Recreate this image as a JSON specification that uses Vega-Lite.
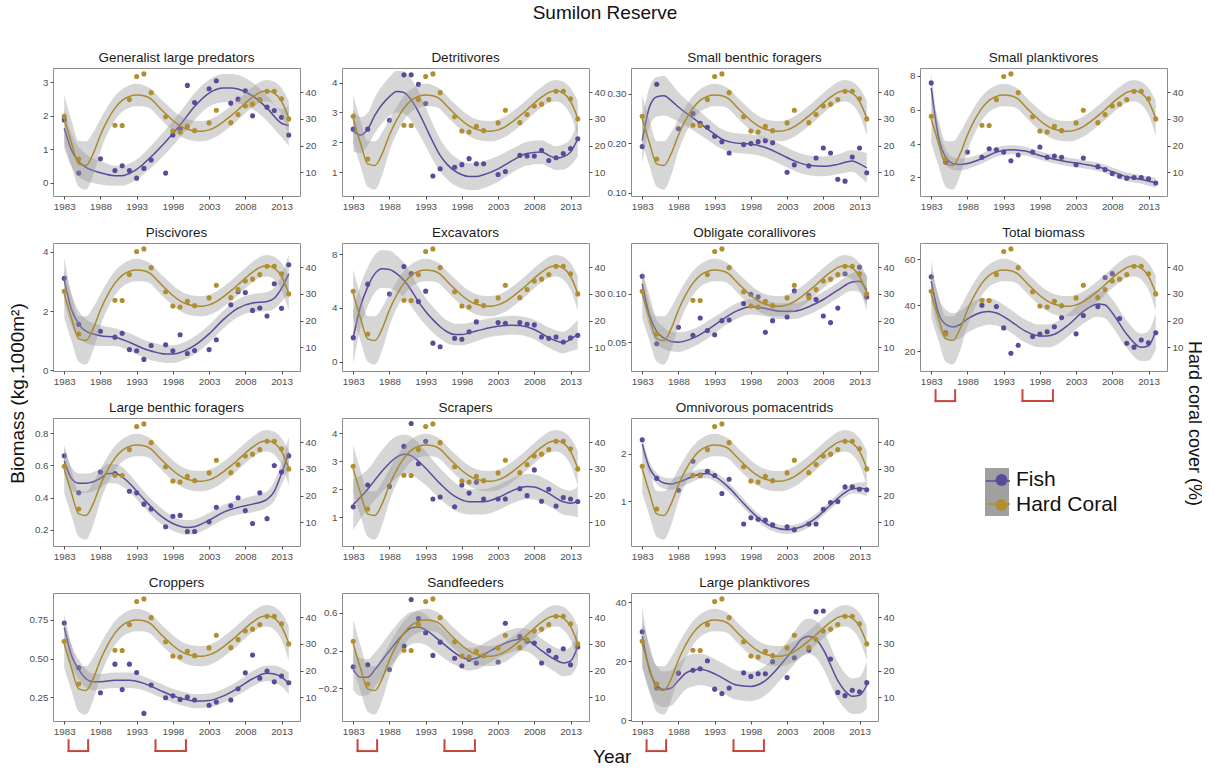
{
"$schema":"https://vega.github.io/schema/vega-lite/v6.json",
"padding":{"left":8,"top":4,"right":0,"bottom":0},
"background":"white",
"config":{"font":"Liberation Sans","view":{"stroke":"#8c8c8c","strokeWidth":1},
"axis":{"labelFontSize":9.8,"labelColor":"#4d4d4d","tickColor":"#4d4d4d","tickSize":3,"labelPadding":2,"domain":false,"grid":false,"labelFont":"Liberation Sans","labelOverlap":false,"labelFlush":false},
"title":{"fontSize":13.5,"fontWeight":"normal","color":"#1a1a1a","offset":4,"font":"Liberation Sans"}},
"datasets":{
"cfit":[{"y":[1983,1984,1985,1986,1987,1988,1989,1990,1991,1992,1993,1994,1995,1996,1997,1998,1999,2000,2001,2002,2003,2004,2005,2006,2007,2008,2009,2010,2011,2012,2013,2014],
"f":[30,21,13.2,12.6,17,24,29.6,34,36.9,38.4,38.9,38.6,37.4,34.6,31.9,29.4,27.4,26.1,25.5,25.4,25.9,27.1,29,31.1,33.4,35.9,38.1,39.9,40.5,39.6,36.5,30.2],
"l":[21,12.5,4.7,3.6,9,18,24.6,29.5,32.7,34.2,34.7,34.6,33.6,30.8,28.1,25.6,23.6,22.3,21.7,21.6,22.1,23.3,25.2,27.3,29.6,32.1,34.3,36,36.5,35.3,31.5,23.7],
"h":[39,29.5,21.7,21.6,25,30,34.6,38.5,41.1,42.6,43.1,42.6,41.2,38.4,35.7,33.2,31.2,29.9,29.3,29.2,29.7,30.9,32.8,34.9,37.2,39.7,41.9,43.8,44.5,43.9,41.5,36.7]}],
"coral":[{"y":[1983,1985,1990,1991,1992,1993,1994,1995,1997,1998,1999,2000,2001,2003,2004,2006,2007,2008,2009,2010,2011,2012,2013,2014],
"v":[31,15,27.6,27.5,37.2,45.8,46.8,39.8,30.8,25.5,25.1,27.2,25.6,28.5,33.2,28.6,31.6,34.8,35.5,37.2,40.3,40.3,37.5,30]}],
"br":[{"a":1983.6,"b":1986.3},{"a":1995.6,"b":1999.8}],
"fish":[
{"p":1,"y":[1983,1985,1988,1990,1991,1992,1993,1994,1995,1997,1998,1999,2000,2001,2003,2004,2006,2007,2008,2009,2010,2011,2012,2013,2014],"v":[1.88,0.29,0.72,0.37,0.51,0.37,0.14,0.43,0.68,0.29,1.43,1.6,2.91,2.4,2.81,3.05,2.38,2.5,2.75,2.0,2.48,2.26,2.16,1.96,1.43]},
{"p":2,"y":[1983,1985,1988,1990,1991,1992,1993,1994,1995,1997,1998,1999,2000,2001,2003,2004,2006,2007,2008,2009,2010,2011,2012,2013,2014],"v":[2.44,2.44,2.74,4.26,4.26,3.94,3.3,0.87,1.11,1.16,1.25,1.45,1.28,1.28,0.92,1.02,1.56,1.54,1.54,1.73,1.39,1.48,1.62,1.79,2.12]},
{"p":3,"y":[1983,1985,1988,1990,1991,1992,1993,1994,1995,1997,1998,1999,2000,2001,2003,2004,2006,2007,2008,2009,2010,2011,2012,2013,2014],"v":[0.193,0.319,0.229,0.26,0.24,0.232,0.214,0.203,0.18,0.197,0.199,0.203,0.205,0.201,0.141,0.156,0.154,0.17,0.19,0.18,0.127,0.123,0.172,0.19,0.14]},
{"p":4,"y":[1983,1985,1988,1990,1991,1992,1993,1994,1995,1997,1998,1999,2000,2001,2003,2004,2006,2007,2008,2009,2010,2011,2012,2013,2014],"v":[7.59,2.9,3.5,3.2,3.7,3.64,3.5,2.99,3.33,3.5,3.8,3.2,3.27,3.19,2.76,3.15,2.64,2.47,2.23,2.08,1.96,2.0,2.0,1.92,1.67]},
{"p":5,"y":[1983,1985,1988,1990,1991,1992,1993,1994,1995,1997,1998,1999,2000,2001,2003,2004,2006,2007,2008,2009,2010,2011,2012,2013,2014],"v":[3.1,1.55,1.32,1.12,1.25,0.7,0.66,0.37,0.84,0.86,0.66,1.2,0.57,0.67,0.7,1.03,2.21,2.65,2.62,2.02,2.1,1.83,2.92,2.09,3.56]},
{"p":6,"y":[1983,1985,1988,1990,1991,1992,1993,1994,1995,1997,1998,1999,2000,2003,2004,2006,2007,2008,2009,2010,2011,2012,2013,2014],"v":[1.78,5.76,5.02,7.07,6.54,4.46,5.24,1.37,1.1,1.73,1.66,2.22,2.95,2.9,2.85,2.9,2.78,2.73,1.83,1.73,1.83,1.46,1.76,1.95]},
{"p":7,"y":[1983,1985,1988,1990,1991,1992,1993,1994,1995,1997,1998,1999,2000,2001,2003,2004,2006,2007,2008,2009,2010,2011,2013,2014],"v":[0.1176,0.0486,0.0655,0.0574,0.075,0.0622,0.0578,0.0723,0.073,0.0899,0.0993,0.0966,0.0605,0.0723,0.076,0.1027,0.0983,0.0939,0.077,0.0703,0.0851,0.1203,0.127,0.0966]},
{"p":8,"y":[1983,1985,1990,1992,1993,1994,1995,1997,1998,1999,2000,2001,2003,2004,2006,2007,2008,2009,2010,2011,2012,2013,2014],"v":[52.4,28.0,40.0,39.4,30.1,19.0,22.5,26.3,27.4,28.4,30.6,34.6,27.5,35.5,39.4,52.1,53.8,34.2,23.4,21.7,24.8,23.6,28]},
{"p":9,"y":[1983,1985,1988,1990,1992,1993,1994,1995,1997,1998,1999,2000,2001,2003,2004,2006,2007,2008,2009,2010,2011,2012,2013,2014],"v":[0.66,0.43,0.56,0.55,0.44,0.43,0.36,0.33,0.22,0.285,0.29,0.19,0.19,0.25,0.34,0.35,0.40,0.32,0.24,0.43,0.27,0.60,0.56,0.66]},
{"p":10,"y":[1983,1985,1988,1990,1991,1992,1993,1994,1995,1997,1998,1999,2000,2001,2003,2004,2006,2007,2008,2009,2010,2011,2012,2013,2014],"v":[1.37,2.15,2.1,3.53,4.35,2.91,3.71,1.65,1.72,1.37,2.15,1.86,2.25,1.65,1.65,1.65,2.02,1.77,2.69,1.57,2.0,1.4,1.7,1.65,1.56]},
{"p":11,"y":[1983,1985,1988,1990,1991,1992,1993,1994,1995,1997,1998,1999,2000,2001,2003,2004,2006,2007,2008,2009,2010,2011,2012,2013,2014],"v":[2.29,1.48,1.23,1.84,1.55,1.63,1.54,1.16,1.46,0.52,0.65,0.62,0.6,0.5,0.46,0.4,0.52,0.52,0.83,0.97,0.99,1.3,1.3,1.25,1.24]},
{"p":12,"y":[1983,1985,1988,1990,1991,1992,1993,1994,1995,1997,1998,1999,2000,2001,2003,2004,2006,2007,2008,2009,2010,2011,2012,2013,2014],"v":[0.729,0.44,0.28,0.464,0.30,0.464,0.41,0.147,0.33,0.248,0.26,0.237,0.252,0.233,0.199,0.22,0.233,0.306,0.408,0.523,0.374,0.42,0.35,0.387,0.344]},
{"p":13,"y":[1983,1985,1988,1990,1991,1992,1993,1994,1995,1997,1998,1999,2000,2003,2004,2006,2007,2008,2009,2010,2011,2012,2013,2014],"v":[0.03,0.05,0.0,0.25,0.74,0.54,0.39,0.15,0.29,0.12,0.04,0.11,0.07,0.08,0.49,0.35,0.3,0.28,0.07,0.2,0.13,0.22,0.05,0.24]},
{"p":14,"y":[1983,1985,1988,1990,1991,1992,1993,1994,1995,1997,1998,1999,2000,2001,2003,2004,2006,2007,2008,2009,2010,2011,2012,2013,2014],"v":[30,11,16,17,17.5,20.2,10.6,9.1,11,16.1,14.9,15.8,15.8,19.9,14.5,21.2,23.8,36.8,37,20.8,9.5,8.4,10.2,9.7,12.8]}
],
"fit":[
{"p":1,"y":[1983,1984,1985,1986,1988,1990,1991,1992,1993,1995,1997,1999,2001,2003,2005,2006,2007,2009,2011,2013,2014],"f":[1.63,0.98,0.63,0.46,0.30,0.21,0.21,0.28,0.40,0.78,1.23,1.73,2.28,2.68,2.83,2.83,2.80,2.60,2.23,1.78,1.71],"l":[1.03,0.48,0.18,0.06,-0.05,-0.09,-0.09,-0.02,0.10,0.45,0.87,1.35,1.88,2.28,2.41,2.41,2.38,2.2,1.85,1.36,1.11],"h":[2.23,1.48,1.08,0.86,0.65,0.51,0.51,0.58,0.70,1.11,1.59,2.11,2.68,3.08,3.25,3.25,3.22,3.0,2.61,2.2,2.31]},
{"p":2,"y":[1983,1984,1985,1986,1988,1989,1990,1991,1992,1993,1994,1995,1996,1997,1998,1999,2000,2001,2003,2005,2007,2009,2010,2011,2012,2013,2014],"f":[2.38,2.24,2.44,2.91,3.53,3.70,3.67,3.42,3.02,2.52,2.01,1.56,1.25,1.04,0.91,0.85,0.85,0.91,1.11,1.39,1.62,1.67,1.56,1.47,1.51,1.67,2.12],"l":[1.68,1.64,1.89,2.31,2.88,3.0,2.97,2.72,2.32,1.87,1.41,1.01,0.75,0.56,0.46,0.40,0.40,0.46,0.68,0.99,1.22,1.27,1.16,1.07,1.09,1.22,1.52],"h":[3.08,2.84,2.99,3.51,4.18,4.4,4.37,4.12,3.72,3.17,2.61,2.11,1.75,1.52,1.36,1.30,1.30,1.36,1.54,1.79,2.02,2.07,1.96,1.87,1.93,2.12,2.72]},
{"p":3,"y":[1983,1984,1985,1986,1987,1988,1990,1992,1994,1996,1998,2000,2002,2004,2006,2008,2010,2012,2013,2014],"f":[0.205,0.273,0.294,0.296,0.286,0.273,0.251,0.229,0.208,0.200,0.198,0.191,0.178,0.164,0.155,0.153,0.157,0.164,0.158,0.150],"l":[0.16,0.233,0.254,0.256,0.251,0.243,0.226,0.207,0.188,0.18,0.178,0.171,0.158,0.144,0.135,0.133,0.137,0.142,0.133,0.12],"h":[0.25,0.313,0.334,0.336,0.321,0.303,0.276,0.251,0.228,0.22,0.218,0.211,0.198,0.184,0.175,0.173,0.177,0.186,0.183,0.18]},
{"p":4,"y":[1983,1984,1985,1986,1987,1988,1990,1992,1994,1996,1998,2000,2002,2004,2006,2008,2010,2012,2014],"f":[7.3,4.4,3.2,2.83,2.77,2.83,3.12,3.5,3.64,3.56,3.3,3.08,2.92,2.79,2.63,2.34,2.04,1.88,1.69],"l":[6.4,3.8,2.75,2.45,2.42,2.5,2.82,3.22,3.37,3.3,3.05,2.83,2.67,2.54,2.38,2.09,1.79,1.63,1.39],"h":[8.2,5.0,3.65,3.21,3.12,3.16,3.42,3.78,3.91,3.82,3.55,3.33,3.17,3.04,2.88,2.59,2.29,2.13,1.99]},
{"p":5,"y":[1983,1984,1985,1986,1988,1990,1992,1994,1996,1997,1998,1999,2001,2003,2005,2007,2009,2011,2012,2013,2014],"f":[3.05,2.05,1.56,1.32,1.17,1.12,0.95,0.73,0.59,0.55,0.55,0.60,0.84,1.23,1.72,2.10,2.27,2.32,2.43,2.76,3.25],"l":[2.3,1.5,1.11,0.92,0.82,0.82,0.65,0.43,0.29,0.25,0.25,0.30,0.54,0.93,1.42,1.80,1.97,2.0,2.08,2.31,2.6],"h":[3.8,2.6,2.01,1.72,1.52,1.42,1.25,1.03,0.89,0.85,0.85,0.90,1.14,1.53,2.02,2.40,2.57,2.64,2.78,3.21,3.9]},
{"p":6,"y":[1983,1984,1985,1986,1987,1988,1989,1990,1991,1992,1993,1994,1995,1996,1997,1998,2000,2002,2004,2005,2006,2008,2010,2011,2012,2013,2014],"f":[1.8,4.1,5.56,6.54,6.9,6.85,6.54,6.05,5.32,4.46,3.73,3.12,2.59,2.2,2.02,2.02,2.27,2.54,2.68,2.71,2.68,2.39,1.78,1.54,1.41,1.66,2.02],"l":[-0.2,2.5,4.11,5.14,5.5,5.45,5.19,4.75,4.12,3.36,2.73,2.17,1.69,1.35,1.22,1.22,1.52,1.84,1.98,2.01,1.98,1.67,1.03,0.77,0.61,0.76,0.92],"h":[3.8,5.7,7.01,7.94,8.3,8.25,7.89,7.35,6.52,5.56,4.73,4.07,3.49,3.05,2.82,2.82,3.02,3.24,3.38,3.41,3.38,3.11,2.53,2.31,2.21,2.56,3.12]},
{"p":7,"y":[1983,1984,1985,1986,1987,1988,1990,1992,1994,1996,1998,2000,2002,2004,2006,2008,2010,2012,2013,2014],"f":[0.110,0.078,0.0611,0.0544,0.051,0.0503,0.0544,0.0628,0.073,0.082,0.0865,0.0848,0.082,0.082,0.0865,0.0939,0.1034,0.1118,0.1125,0.1034],"l":[0.097,0.066,0.049,0.0434,0.041,0.0403,0.0454,0.0538,0.065,0.074,0.0785,0.0768,0.074,0.074,0.0785,0.0859,0.0954,0.1028,0.1015,0.0884],"h":[0.123,0.090,0.073,0.0654,0.061,0.0603,0.0634,0.0718,0.081,0.090,0.0945,0.0928,0.090,0.090,0.0945,0.1019,0.1114,0.1208,0.1235,0.1184]},
{"p":8,"y":[1983,1984,1985,1986,1987,1988,1990,1991,1992,1994,1996,1998,1999,2000,2002,2004,2006,2007,2008,2010,2012,2013,2014],"f":[50.5,36.6,31.6,30.5,31.6,34,36.9,37.3,36.6,33,28.7,26.6,26.6,27.3,31.6,37.3,40.6,40.1,36.6,27.3,21.6,22.3,28.7],"l":[41.5,29.6,25.1,24.5,25.6,28,30.9,31.5,31.1,28,23.7,21.6,21.6,22.3,26.6,32,35,34.3,30.6,21.3,15.6,15.8,20.7],"h":[59.5,43.6,38.1,36.5,37.6,40,42.9,43.1,42.1,38,33.7,31.6,31.6,32.3,36.6,42.6,46.2,45.9,42.6,33.3,27.6,28.8,36.7]},
{"p":9,"y":[1983,1984,1985,1986,1988,1989,1990,1991,1992,1994,1996,1998,2000,2001,2003,2005,2007,2009,2011,2012,2013,2014],"f":[0.63,0.52,0.49,0.49,0.52,0.55,0.55,0.53,0.49,0.39,0.30,0.24,0.215,0.22,0.26,0.31,0.34,0.36,0.39,0.44,0.55,0.68],"l":[0.55,0.45,0.43,0.43,0.46,0.49,0.49,0.47,0.435,0.34,0.25,0.195,0.17,0.175,0.215,0.265,0.295,0.31,0.34,0.38,0.48,0.58],"h":[0.71,0.59,0.55,0.55,0.58,0.61,0.61,0.59,0.545,0.44,0.35,0.285,0.26,0.265,0.305,0.355,0.385,0.41,0.44,0.50,0.62,0.78]},
{"p":10,"y":[1983,1985,1987,1989,1990,1991,1992,1993,1995,1997,1999,2001,2003,2005,2007,2008,2010,2012,2013,2014],"f":[1.45,2.0,2.65,3.15,3.25,3.2,3.0,2.75,2.2,1.75,1.55,1.55,1.7,1.95,2.1,2.08,1.85,1.55,1.5,1.55],"l":[0.55,1.3,1.9,2.4,2.55,2.52,2.35,2.15,1.65,1.25,1.1,1.1,1.25,1.5,1.65,1.63,1.4,1.1,1.05,1.0],"h":[2.35,2.7,3.4,3.9,3.95,3.88,3.65,3.35,2.75,2.25,2.0,2.0,2.15,2.4,2.55,2.53,2.3,2.0,1.95,2.1]},
{"p":11,"y":[1983,1984,1985,1986,1987,1988,1990,1991,1992,1993,1995,1997,1999,2001,2003,2005,2007,2009,2011,2012,2013,2014],"f":[2.2,1.7,1.48,1.38,1.36,1.4,1.52,1.57,1.58,1.52,1.28,0.95,0.65,0.46,0.40,0.46,0.65,0.92,1.18,1.26,1.27,1.25],"l":[2.05,1.57,1.36,1.26,1.24,1.28,1.41,1.47,1.48,1.42,1.18,0.85,0.56,0.37,0.31,0.37,0.56,0.83,1.08,1.16,1.15,1.1],"h":[2.35,1.83,1.6,1.5,1.48,1.52,1.63,1.67,1.68,1.62,1.38,1.05,0.74,0.55,0.49,0.55,0.74,1.01,1.28,1.36,1.39,1.4]},
{"p":12,"y":[1983,1984,1985,1986,1987,1988,1990,1992,1994,1996,1998,2000,2001,2003,2005,2007,2009,2011,2012,2013,2014],"f":[0.70,0.52,0.43,0.37,0.35,0.35,0.36,0.36,0.34,0.30,0.26,0.235,0.225,0.23,0.26,0.31,0.37,0.405,0.40,0.38,0.34],"l":[0.61,0.45,0.365,0.31,0.295,0.30,0.31,0.31,0.295,0.255,0.215,0.19,0.18,0.185,0.215,0.265,0.32,0.355,0.345,0.32,0.27],"h":[0.79,0.59,0.495,0.43,0.405,0.40,0.41,0.41,0.385,0.345,0.305,0.28,0.27,0.275,0.305,0.355,0.42,0.455,0.455,0.44,0.41]},
{"p":13,"y":[1983,1984,1985,1986,1988,1990,1991,1992,1993,1995,1997,1998,1999,2000,2002,2004,2006,2007,2009,2011,2012,2013,2014],"f":[0.0,-0.08,-0.08,0.0,0.20,0.38,0.44,0.45,0.42,0.30,0.18,0.13,0.11,0.12,0.20,0.28,0.32,0.31,0.20,0.10,0.07,0.09,0.25],"l":[-0.22,-0.28,-0.27,-0.18,0.02,0.20,0.27,0.28,0.26,0.15,0.05,0.01,-0.01,0.0,0.08,0.16,0.20,0.19,0.07,-0.03,-0.07,-0.06,0.05],"h":[0.22,0.12,0.11,0.18,0.38,0.56,0.61,0.62,0.58,0.45,0.31,0.25,0.23,0.24,0.32,0.40,0.44,0.43,0.33,0.23,0.21,0.24,0.45]},
{"p":14,"y":[1983,1984,1985,1986,1987,1988,1989,1990,1991,1992,1994,1996,1998,2000,2002,2004,2005,2006,2007,2008,2010,2011,2012,2013,2014],"f":[28.5,17,12,10.5,11,13.5,16,17,17.3,16.8,14.5,12,11.5,13.5,18.5,24.5,27.5,28.5,27.5,24,13.5,10,8.2,8.5,12],"l":[18.5,9.5,5.5,4.5,5,7.7,10.5,11.5,12,11.6,9.5,7,6.5,8.5,13.5,19,21.7,22.5,21.3,17.5,7.3,4,2.2,2.3,4],"h":[38.5,24.5,18.5,16.5,17,19.3,21.5,22.5,22.6,22,19.5,17,16.5,18.5,23.5,30,33.3,34.5,33.7,30.5,19.7,16,14.2,14.7,20]}
]},
"title":{"text":"Sumilon Reserve","fontSize":19,"offset":27,"anchor":"middle","color":"#111111"},
"vconcat":[
{"spacing":-5,"hconcat":[
{"width":1,"height":600,"view":{"stroke":null},"data":{"values":[{}]},"mark":{"type":"point","opacity":0},"encoding":{"y":{"datum":0,"type":"quantitative","axis":{"title":"Biomass (kg.1000m²)","labels":false,"ticks":false,"domain":false,"grid":false,"titleFontSize":19,"titleFontWeight":"normal","titleColor":"#111111","titlePadding":2,"titleY":325}}}},
{"spacing":0,"hconcat":[
{"columns":4,"align":"all","bounds":"full","spacing":{"row":-3,"column":0},
"concat":[
{"title":"Generalist large predators","width":247,"height":128,"resolve":{"scale":{"y":"independent"}},"layer":[
{"layer":[{"data":{"name":"fit"},"transform":[{"filter":"datum.p==1"},{"flatten":["y","f","l","h"]}],"layer":[{"mark":{"type":"area","color":"#999999","opacity":0.4,"interpolate":"monotone"},"encoding":{"x":{"field":"y","type":"quantitative","scale":{"domain":[1981.45,2015.55],"nice":false,"zero":false},"axis":{"values":[1983,1988,1993,1998,2003,2008,2013],"format":"d","title":null}},"y":{"field":"l","type":"quantitative","scale":{"domain":[-0.394,3.43],"nice":false,"zero":false},"axis":{"values":[0,1,2,3],"format":"d","title":null}},"y2":{"field":"h"}}},{"mark":{"type":"line","color":"#5b4a9b","strokeWidth":1.5,"interpolate":"monotone"},"encoding":{"x":{"field":"y","type":"quantitative"},"y":{"field":"f","type":"quantitative"}}}]},{"data":{"name":"fish"},"transform":[{"filter":"datum.p==1"},{"flatten":["y","v"]}],"mark":{"type":"circle","size":26,"opacity":1},"encoding":{"x":{"field":"y","type":"quantitative"},"y":{"field":"v","type":"quantitative"},"color":{"datum":"Fish","type":"nominal","scale":{"domain":["Fish","Hard Coral"],"range":["#5b4a9b","#b18e2f"]},"legend":{"title":null,"orient":"none","legendX":956,"legendY":401.5,"labelFontSize":21,"labelColor":"#111111","labelOffset":4,"symbolType":"circle","symbolSize":140,"symbolStrokeWidth":0,"symbolOffset":6,"rowPadding":3,"zindex":2}}}}]},
{"layer":[{"data":{"name":"cfit"},"transform":[{"flatten":["y","f","l","h"]}],"layer":[{"mark":{"type":"area","color":"#999999","opacity":0.4,"interpolate":"monotone"},"encoding":{"x":{"field":"y","type":"quantitative"},"y":{"field":"l","type":"quantitative","scale":{"domain":[1.2,49],"nice":false,"zero":false},"axis":{"orient":"right","values":[10,20,30,40],"format":"d","title":null}},"y2":{"field":"h"}}},{"mark":{"type":"line","color":"#a98a2c","strokeWidth":1.5,"interpolate":"monotone"},"encoding":{"x":{"field":"y","type":"quantitative"},"y":{"field":"f","type":"quantitative"}}}]},{"data":{"name":"coral"},"transform":[{"flatten":["y","v"]}],"mark":{"type":"circle","size":26,"opacity":1},"encoding":{"x":{"field":"y","type":"quantitative"},"y":{"field":"v","type":"quantitative"},"color":{"datum":"Hard Coral","type":"nominal"}}}]},
{"data":{"values":[{}]},"mark":{"type":"square","opacity":0},"encoding":{"fill":{"datum":"Fish ","type":"nominal","scale":{"domain":["Fish ","Hard Coral "],"range":["#a0a0a0","#a0a0a0"]},"legend":{"title":null,"orient":"none","legendX":956,"legendY":400,"symbolType":"square","symbolSize":576,"symbolOpacity":1,"symbolStrokeWidth":0,"labelFontSize":21,"labelExpr":"''","rowPadding":0,"zindex":0}}}},
{"data":{"values":[{}]},"mark":{"type":"point","opacity":0},"encoding":{"stroke":{"datum":"Fish  ","type":"nominal","scale":{"domain":["Fish  ","Hard Coral  "],"range":["#5b4a9b","#b18e2f"]},"legend":{"title":null,"orient":"none","legendX":956,"legendY":400,"symbolType":"stroke","symbolSize":576,"symbolStrokeWidth":1.5,"symbolOpacity":1,"labelFontSize":21,"labelExpr":"''","rowPadding":0,"zindex":1}}}},
{"data":{"values":[{}]},"mark":{"type":"point","opacity":0},"encoding":{"shape":{"datum":"yr","type":"nominal","scale":{"domain":["yr"]},"legend":{"title":"Year","orient":"none","legendX":564,"legendY":680,"padding":0,"titleFontSize":19,"titleFontWeight":"normal","titleColor":"#111111","titlePadding":0,"symbolOpacity":0,"symbolSize":1,"labelFontSize":1,"labelExpr":"''","zindex":3}}}}
]},
{"title":"Detritivores","width":247,"height":128,"resolve":{"scale":{"y":"independent"}},"layer":[
{"layer":[{"data":{"name":"fit"},"transform":[{"filter":"datum.p==2"},{"flatten":["y","f","l","h"]}],"layer":[{"mark":{"type":"area","color":"#999999","opacity":0.4,"interpolate":"monotone"},"encoding":{"x":{"field":"y","type":"quantitative","scale":{"domain":[1981.45,2015.55],"nice":false,"zero":false},"axis":{"values":[1983,1988,1993,1998,2003,2008,2013],"format":"d","title":null}},"y":{"field":"l","type":"quantitative","scale":{"domain":[0.198,4.49],"nice":false,"zero":false},"axis":{"values":[1,2,3,4],"format":"d","title":null}},"y2":{"field":"h"}}},{"mark":{"type":"line","color":"#5b4a9b","strokeWidth":1.5,"interpolate":"monotone"},"encoding":{"x":{"field":"y","type":"quantitative"},"y":{"field":"f","type":"quantitative"}}}]},{"data":{"name":"fish"},"transform":[{"filter":"datum.p==2"},{"flatten":["y","v"]}],"mark":{"type":"circle","size":26,"opacity":1},"encoding":{"x":{"field":"y","type":"quantitative"},"y":{"field":"v","type":"quantitative"},"color":{"datum":"Fish","type":"nominal"}}}]},
{"layer":[{"data":{"name":"cfit"},"transform":[{"flatten":["y","f","l","h"]}],"layer":[{"mark":{"type":"area","color":"#999999","opacity":0.4,"interpolate":"monotone"},"encoding":{"x":{"field":"y","type":"quantitative"},"y":{"field":"l","type":"quantitative","scale":{"domain":[1.2,49],"nice":false,"zero":false},"axis":{"orient":"right","values":[10,20,30,40],"format":"d","title":null}},"y2":{"field":"h"}}},{"mark":{"type":"line","color":"#a98a2c","strokeWidth":1.5,"interpolate":"monotone"},"encoding":{"x":{"field":"y","type":"quantitative"},"y":{"field":"f","type":"quantitative"}}}]},{"data":{"name":"coral"},"transform":[{"flatten":["y","v"]}],"mark":{"type":"circle","size":26,"opacity":1},"encoding":{"x":{"field":"y","type":"quantitative"},"y":{"field":"v","type":"quantitative"},"color":{"datum":"Hard Coral","type":"nominal"}}}]}
]},
{"title":"Small benthic foragers","width":247,"height":128,"resolve":{"scale":{"y":"independent"}},"layer":[
{"layer":[{"data":{"name":"fit"},"transform":[{"filter":"datum.p==3"},{"flatten":["y","f","l","h"]}],"layer":[{"mark":{"type":"area","color":"#999999","opacity":0.4,"interpolate":"monotone"},"encoding":{"x":{"field":"y","type":"quantitative","scale":{"domain":[1981.45,2015.55],"nice":false,"zero":false},"axis":{"values":[1983,1988,1993,1998,2003,2008,2013],"format":"d","title":null}},"y":{"field":"l","type":"quantitative","scale":{"domain":[0.093,0.352],"nice":false,"zero":false},"axis":{"values":[0.1,0.15,0.2,0.25,0.3,0.35],"format":".2f","title":null}},"y2":{"field":"h"}}},{"mark":{"type":"line","color":"#5b4a9b","strokeWidth":1.5,"interpolate":"monotone"},"encoding":{"x":{"field":"y","type":"quantitative"},"y":{"field":"f","type":"quantitative"}}}]},{"data":{"name":"fish"},"transform":[{"filter":"datum.p==3"},{"flatten":["y","v"]}],"mark":{"type":"circle","size":26,"opacity":1},"encoding":{"x":{"field":"y","type":"quantitative"},"y":{"field":"v","type":"quantitative"},"color":{"datum":"Fish","type":"nominal"}}}]},
{"layer":[{"data":{"name":"cfit"},"transform":[{"flatten":["y","f","l","h"]}],"layer":[{"mark":{"type":"area","color":"#999999","opacity":0.4,"interpolate":"monotone"},"encoding":{"x":{"field":"y","type":"quantitative"},"y":{"field":"l","type":"quantitative","scale":{"domain":[1.2,49],"nice":false,"zero":false},"axis":{"orient":"right","values":[10,20,30,40],"format":"d","title":null}},"y2":{"field":"h"}}},{"mark":{"type":"line","color":"#a98a2c","strokeWidth":1.5,"interpolate":"monotone"},"encoding":{"x":{"field":"y","type":"quantitative"},"y":{"field":"f","type":"quantitative"}}}]},{"data":{"name":"coral"},"transform":[{"flatten":["y","v"]}],"mark":{"type":"circle","size":26,"opacity":1},"encoding":{"x":{"field":"y","type":"quantitative"},"y":{"field":"v","type":"quantitative"},"color":{"datum":"Hard Coral","type":"nominal"}}}]}
]},
{"title":"Small planktivores","width":247,"height":128,"resolve":{"scale":{"y":"independent"}},"layer":[
{"layer":[{"data":{"name":"fit"},"transform":[{"filter":"datum.p==4"},{"flatten":["y","f","l","h"]}],"layer":[{"mark":{"type":"area","color":"#999999","opacity":0.4,"interpolate":"monotone"},"encoding":{"x":{"field":"y","type":"quantitative","scale":{"domain":[1981.45,2015.55],"nice":false,"zero":false},"axis":{"values":[1983,1988,1993,1998,2003,2008,2013],"format":"d","title":null}},"y":{"field":"l","type":"quantitative","scale":{"domain":[0.906,8.47],"nice":false,"zero":false},"axis":{"values":[2,4,6,8],"format":"d","title":null}},"y2":{"field":"h"}}},{"mark":{"type":"line","color":"#5b4a9b","strokeWidth":1.5,"interpolate":"monotone"},"encoding":{"x":{"field":"y","type":"quantitative"},"y":{"field":"f","type":"quantitative"}}}]},{"data":{"name":"fish"},"transform":[{"filter":"datum.p==4"},{"flatten":["y","v"]}],"mark":{"type":"circle","size":26,"opacity":1},"encoding":{"x":{"field":"y","type":"quantitative"},"y":{"field":"v","type":"quantitative"},"color":{"datum":"Fish","type":"nominal"}}}]},
{"layer":[{"data":{"name":"cfit"},"transform":[{"flatten":["y","f","l","h"]}],"layer":[{"mark":{"type":"area","color":"#999999","opacity":0.4,"interpolate":"monotone"},"encoding":{"x":{"field":"y","type":"quantitative"},"y":{"field":"l","type":"quantitative","scale":{"domain":[1.2,49],"nice":false,"zero":false},"axis":{"orient":"right","values":[10,20,30,40],"format":"d","title":null}},"y2":{"field":"h"}}},{"mark":{"type":"line","color":"#a98a2c","strokeWidth":1.5,"interpolate":"monotone"},"encoding":{"x":{"field":"y","type":"quantitative"},"y":{"field":"f","type":"quantitative"}}}]},{"data":{"name":"coral"},"transform":[{"flatten":["y","v"]}],"mark":{"type":"circle","size":26,"opacity":1},"encoding":{"x":{"field":"y","type":"quantitative"},"y":{"field":"v","type":"quantitative"},"color":{"datum":"Hard Coral","type":"nominal"}}}]},
{"data":{"values":[{}]},"mark":{"type":"rule","opacity":0},"encoding":{"y":{"datum":-0.235,"type":"quantitative","scale":{"domain":[0,1]},"axis":null}}}
]},
{"title":"Piscivores","width":247,"height":128,"resolve":{"scale":{"y":"independent"}},"layer":[
{"layer":[{"data":{"name":"fit"},"transform":[{"filter":"datum.p==5"},{"flatten":["y","f","l","h"]}],"layer":[{"mark":{"type":"area","color":"#999999","opacity":0.4,"interpolate":"monotone"},"encoding":{"x":{"field":"y","type":"quantitative","scale":{"domain":[1981.45,2015.55],"nice":false,"zero":false},"axis":{"values":[1983,1988,1993,1998,2003,2008,2013],"format":"d","title":null}},"y":{"field":"l","type":"quantitative","scale":{"domain":[-0.02,4.29],"nice":false,"zero":false},"axis":{"values":[0,1,2,3,4],"format":"d","title":null}},"y2":{"field":"h"}}},{"mark":{"type":"line","color":"#5b4a9b","strokeWidth":1.5,"interpolate":"monotone"},"encoding":{"x":{"field":"y","type":"quantitative"},"y":{"field":"f","type":"quantitative"}}}]},{"data":{"name":"fish"},"transform":[{"filter":"datum.p==5"},{"flatten":["y","v"]}],"mark":{"type":"circle","size":26,"opacity":1},"encoding":{"x":{"field":"y","type":"quantitative"},"y":{"field":"v","type":"quantitative"},"color":{"datum":"Fish","type":"nominal"}}}]},
{"layer":[{"data":{"name":"cfit"},"transform":[{"flatten":["y","f","l","h"]}],"layer":[{"mark":{"type":"area","color":"#999999","opacity":0.4,"interpolate":"monotone"},"encoding":{"x":{"field":"y","type":"quantitative"},"y":{"field":"l","type":"quantitative","scale":{"domain":[1.2,49],"nice":false,"zero":false},"axis":{"orient":"right","values":[10,20,30,40],"format":"d","title":null}},"y2":{"field":"h"}}},{"mark":{"type":"line","color":"#a98a2c","strokeWidth":1.5,"interpolate":"monotone"},"encoding":{"x":{"field":"y","type":"quantitative"},"y":{"field":"f","type":"quantitative"}}}]},{"data":{"name":"coral"},"transform":[{"flatten":["y","v"]}],"mark":{"type":"circle","size":26,"opacity":1},"encoding":{"x":{"field":"y","type":"quantitative"},"y":{"field":"v","type":"quantitative"},"color":{"datum":"Hard Coral","type":"nominal"}}}]}
]},
{"title":"Excavators","width":247,"height":128,"resolve":{"scale":{"y":"independent"}},"layer":[
{"layer":[{"data":{"name":"fit"},"transform":[{"filter":"datum.p==6"},{"flatten":["y","f","l","h"]}],"layer":[{"mark":{"type":"area","color":"#999999","opacity":0.4,"interpolate":"monotone"},"encoding":{"x":{"field":"y","type":"quantitative","scale":{"domain":[1981.45,2015.55],"nice":false,"zero":false},"axis":{"values":[1983,1988,1993,1998,2003,2008,2013],"format":"d","title":null}},"y":{"field":"l","type":"quantitative","scale":{"domain":[-0.7,8.82],"nice":false,"zero":false},"axis":{"values":[0,2,4,6,8],"format":"d","title":null}},"y2":{"field":"h"}}},{"mark":{"type":"line","color":"#5b4a9b","strokeWidth":1.5,"interpolate":"monotone"},"encoding":{"x":{"field":"y","type":"quantitative"},"y":{"field":"f","type":"quantitative"}}}]},{"data":{"name":"fish"},"transform":[{"filter":"datum.p==6"},{"flatten":["y","v"]}],"mark":{"type":"circle","size":26,"opacity":1},"encoding":{"x":{"field":"y","type":"quantitative"},"y":{"field":"v","type":"quantitative"},"color":{"datum":"Fish","type":"nominal"}}}]},
{"layer":[{"data":{"name":"cfit"},"transform":[{"flatten":["y","f","l","h"]}],"layer":[{"mark":{"type":"area","color":"#999999","opacity":0.4,"interpolate":"monotone"},"encoding":{"x":{"field":"y","type":"quantitative"},"y":{"field":"l","type":"quantitative","scale":{"domain":[1.2,49],"nice":false,"zero":false},"axis":{"orient":"right","values":[10,20,30,40],"format":"d","title":null}},"y2":{"field":"h"}}},{"mark":{"type":"line","color":"#a98a2c","strokeWidth":1.5,"interpolate":"monotone"},"encoding":{"x":{"field":"y","type":"quantitative"},"y":{"field":"f","type":"quantitative"}}}]},{"data":{"name":"coral"},"transform":[{"flatten":["y","v"]}],"mark":{"type":"circle","size":26,"opacity":1},"encoding":{"x":{"field":"y","type":"quantitative"},"y":{"field":"v","type":"quantitative"},"color":{"datum":"Hard Coral","type":"nominal"}}}]}
]},
{"title":"Obligate corallivores","width":247,"height":128,"resolve":{"scale":{"y":"independent"}},"layer":[
{"layer":[{"data":{"name":"fit"},"transform":[{"filter":"datum.p==7"},{"flatten":["y","f","l","h"]}],"layer":[{"mark":{"type":"area","color":"#999999","opacity":0.4,"interpolate":"monotone"},"encoding":{"x":{"field":"y","type":"quantitative","scale":{"domain":[1981.45,2015.55],"nice":false,"zero":false},"axis":{"values":[1983,1988,1993,1998,2003,2008,2013],"format":"d","title":null}},"y":{"field":"l","type":"quantitative","scale":{"domain":[0.0208,0.1517],"nice":false,"zero":false},"axis":{"values":[0.05,0.1],"format":".2f","title":null}},"y2":{"field":"h"}}},{"mark":{"type":"line","color":"#5b4a9b","strokeWidth":1.5,"interpolate":"monotone"},"encoding":{"x":{"field":"y","type":"quantitative"},"y":{"field":"f","type":"quantitative"}}}]},{"data":{"name":"fish"},"transform":[{"filter":"datum.p==7"},{"flatten":["y","v"]}],"mark":{"type":"circle","size":26,"opacity":1},"encoding":{"x":{"field":"y","type":"quantitative"},"y":{"field":"v","type":"quantitative"},"color":{"datum":"Fish","type":"nominal"}}}]},
{"layer":[{"data":{"name":"cfit"},"transform":[{"flatten":["y","f","l","h"]}],"layer":[{"mark":{"type":"area","color":"#999999","opacity":0.4,"interpolate":"monotone"},"encoding":{"x":{"field":"y","type":"quantitative"},"y":{"field":"l","type":"quantitative","scale":{"domain":[1.2,49],"nice":false,"zero":false},"axis":{"orient":"right","values":[10,20,30,40],"format":"d","title":null}},"y2":{"field":"h"}}},{"mark":{"type":"line","color":"#a98a2c","strokeWidth":1.5,"interpolate":"monotone"},"encoding":{"x":{"field":"y","type":"quantitative"},"y":{"field":"f","type":"quantitative"}}}]},{"data":{"name":"coral"},"transform":[{"flatten":["y","v"]}],"mark":{"type":"circle","size":26,"opacity":1},"encoding":{"x":{"field":"y","type":"quantitative"},"y":{"field":"v","type":"quantitative"},"color":{"datum":"Hard Coral","type":"nominal"}}}]}
]},
{"title":"Total biomass","width":247,"height":128,"resolve":{"scale":{"y":"independent"}},"layer":[
{"layer":[{"data":{"name":"fit"},"transform":[{"filter":"datum.p==8"},{"flatten":["y","f","l","h"]}],"layer":[{"mark":{"type":"area","color":"#999999","opacity":0.4,"interpolate":"monotone"},"encoding":{"x":{"field":"y","type":"quantitative","scale":{"domain":[1981.45,2015.55],"nice":false,"zero":false},"axis":{"values":[1983,1988,1993,1998,2003,2008,2013],"format":"d","title":null}},"y":{"field":"l","type":"quantitative","scale":{"domain":[11.27,67.2],"nice":false,"zero":false},"axis":{"values":[20,30,40,50,60],"format":"d","title":null}},"y2":{"field":"h"}}},{"mark":{"type":"line","color":"#5b4a9b","strokeWidth":1.5,"interpolate":"monotone"},"encoding":{"x":{"field":"y","type":"quantitative"},"y":{"field":"f","type":"quantitative"}}}]},{"data":{"name":"fish"},"transform":[{"filter":"datum.p==8"},{"flatten":["y","v"]}],"mark":{"type":"circle","size":26,"opacity":1},"encoding":{"x":{"field":"y","type":"quantitative"},"y":{"field":"v","type":"quantitative"},"color":{"datum":"Fish","type":"nominal"}}}]},
{"layer":[{"data":{"name":"cfit"},"transform":[{"flatten":["y","f","l","h"]}],"layer":[{"mark":{"type":"area","color":"#999999","opacity":0.4,"interpolate":"monotone"},"encoding":{"x":{"field":"y","type":"quantitative"},"y":{"field":"l","type":"quantitative","scale":{"domain":[1.2,49],"nice":false,"zero":false},"axis":{"orient":"right","values":[10,20,30,40],"format":"d","title":null}},"y2":{"field":"h"}}},{"mark":{"type":"line","color":"#a98a2c","strokeWidth":1.5,"interpolate":"monotone"},"encoding":{"x":{"field":"y","type":"quantitative"},"y":{"field":"f","type":"quantitative"}}}]},{"data":{"name":"coral"},"transform":[{"flatten":["y","v"]}],"mark":{"type":"circle","size":26,"opacity":1},"encoding":{"x":{"field":"y","type":"quantitative"},"y":{"field":"v","type":"quantitative"},"color":{"datum":"Hard Coral","type":"nominal"}}}]},
{"data":{"name":"br"},"layer":[{"mark":{"type":"rule","color":"#c8453b","strokeWidth":2,"strokeCap":"square"},"encoding":{"x":{"field":"a","type":"quantitative"},"x2":{"field":"b"},"y":{"datum":-0.235,"type":"quantitative","scale":{"domain":[0,1]},"axis":null}}},{"transform":[{"fold":["a","b"]}],"mark":{"type":"rule","color":"#c8453b","strokeWidth":2,"strokeCap":"square"},"encoding":{"x":{"field":"value","type":"quantitative"},"y":{"datum":-0.235,"type":"quantitative","axis":null},"y2":{"datum":-0.15}}}]}
]},
{"title":"Large benthic foragers","width":247,"height":128,"resolve":{"scale":{"y":"independent"}},"layer":[
{"layer":[{"data":{"name":"fit"},"transform":[{"filter":"datum.p==9"},{"flatten":["y","f","l","h"]}],"layer":[{"mark":{"type":"area","color":"#999999","opacity":0.4,"interpolate":"monotone"},"encoding":{"x":{"field":"y","type":"quantitative","scale":{"domain":[1981.45,2015.55],"nice":false,"zero":false},"axis":{"values":[1983,1988,1993,1998,2003,2008,2013],"format":"d","title":null}},"y":{"field":"l","type":"quantitative","scale":{"domain":[0.1,0.895],"nice":false,"zero":false},"axis":{"values":[0.2,0.4,0.6,0.8],"format":".1f","title":null}},"y2":{"field":"h"}}},{"mark":{"type":"line","color":"#5b4a9b","strokeWidth":1.5,"interpolate":"monotone"},"encoding":{"x":{"field":"y","type":"quantitative"},"y":{"field":"f","type":"quantitative"}}}]},{"data":{"name":"fish"},"transform":[{"filter":"datum.p==9"},{"flatten":["y","v"]}],"mark":{"type":"circle","size":26,"opacity":1},"encoding":{"x":{"field":"y","type":"quantitative"},"y":{"field":"v","type":"quantitative"},"color":{"datum":"Fish","type":"nominal"}}}]},
{"layer":[{"data":{"name":"cfit"},"transform":[{"flatten":["y","f","l","h"]}],"layer":[{"mark":{"type":"area","color":"#999999","opacity":0.4,"interpolate":"monotone"},"encoding":{"x":{"field":"y","type":"quantitative"},"y":{"field":"l","type":"quantitative","scale":{"domain":[1.2,49],"nice":false,"zero":false},"axis":{"orient":"right","values":[10,20,30,40],"format":"d","title":null}},"y2":{"field":"h"}}},{"mark":{"type":"line","color":"#a98a2c","strokeWidth":1.5,"interpolate":"monotone"},"encoding":{"x":{"field":"y","type":"quantitative"},"y":{"field":"f","type":"quantitative"}}}]},{"data":{"name":"coral"},"transform":[{"flatten":["y","v"]}],"mark":{"type":"circle","size":26,"opacity":1},"encoding":{"x":{"field":"y","type":"quantitative"},"y":{"field":"v","type":"quantitative"},"color":{"datum":"Hard Coral","type":"nominal"}}}]}
]},
{"title":"Scrapers","width":247,"height":128,"resolve":{"scale":{"y":"independent"}},"layer":[
{"layer":[{"data":{"name":"fit"},"transform":[{"filter":"datum.p==10"},{"flatten":["y","f","l","h"]}],"layer":[{"mark":{"type":"area","color":"#999999","opacity":0.4,"interpolate":"monotone"},"encoding":{"x":{"field":"y","type":"quantitative","scale":{"domain":[1981.45,2015.55],"nice":false,"zero":false},"axis":{"values":[1983,1988,1993,1998,2003,2008,2013],"format":"d","title":null}},"y":{"field":"l","type":"quantitative","scale":{"domain":[-0.03,4.545],"nice":false,"zero":false},"axis":{"values":[1,2,3,4],"format":"d","title":null}},"y2":{"field":"h"}}},{"mark":{"type":"line","color":"#5b4a9b","strokeWidth":1.5,"interpolate":"monotone"},"encoding":{"x":{"field":"y","type":"quantitative"},"y":{"field":"f","type":"quantitative"}}}]},{"data":{"name":"fish"},"transform":[{"filter":"datum.p==10"},{"flatten":["y","v"]}],"mark":{"type":"circle","size":26,"opacity":1},"encoding":{"x":{"field":"y","type":"quantitative"},"y":{"field":"v","type":"quantitative"},"color":{"datum":"Fish","type":"nominal"}}}]},
{"layer":[{"data":{"name":"cfit"},"transform":[{"flatten":["y","f","l","h"]}],"layer":[{"mark":{"type":"area","color":"#999999","opacity":0.4,"interpolate":"monotone"},"encoding":{"x":{"field":"y","type":"quantitative"},"y":{"field":"l","type":"quantitative","scale":{"domain":[1.2,49],"nice":false,"zero":false},"axis":{"orient":"right","values":[10,20,30,40],"format":"d","title":null}},"y2":{"field":"h"}}},{"mark":{"type":"line","color":"#a98a2c","strokeWidth":1.5,"interpolate":"monotone"},"encoding":{"x":{"field":"y","type":"quantitative"},"y":{"field":"f","type":"quantitative"}}}]},{"data":{"name":"coral"},"transform":[{"flatten":["y","v"]}],"mark":{"type":"circle","size":26,"opacity":1},"encoding":{"x":{"field":"y","type":"quantitative"},"y":{"field":"v","type":"quantitative"},"color":{"datum":"Hard Coral","type":"nominal"}}}]}
]},
{"title":"Omnivorous pomacentrids","width":247,"height":128,"resolve":{"scale":{"y":"independent"}},"layer":[
{"layer":[{"data":{"name":"fit"},"transform":[{"filter":"datum.p==11"},{"flatten":["y","f","l","h"]}],"layer":[{"mark":{"type":"area","color":"#999999","opacity":0.4,"interpolate":"monotone"},"encoding":{"x":{"field":"y","type":"quantitative","scale":{"domain":[1981.45,2015.55],"nice":false,"zero":false},"axis":{"values":[1983,1988,1993,1998,2003,2008,2013],"format":"d","title":null}},"y":{"field":"l","type":"quantitative","scale":{"domain":[0.056,2.75],"nice":false,"zero":false},"axis":{"values":[1,2],"format":"d","title":null}},"y2":{"field":"h"}}},{"mark":{"type":"line","color":"#5b4a9b","strokeWidth":1.5,"interpolate":"monotone"},"encoding":{"x":{"field":"y","type":"quantitative"},"y":{"field":"f","type":"quantitative"}}}]},{"data":{"name":"fish"},"transform":[{"filter":"datum.p==11"},{"flatten":["y","v"]}],"mark":{"type":"circle","size":26,"opacity":1},"encoding":{"x":{"field":"y","type":"quantitative"},"y":{"field":"v","type":"quantitative"},"color":{"datum":"Fish","type":"nominal"}}}]},
{"layer":[{"data":{"name":"cfit"},"transform":[{"flatten":["y","f","l","h"]}],"layer":[{"mark":{"type":"area","color":"#999999","opacity":0.4,"interpolate":"monotone"},"encoding":{"x":{"field":"y","type":"quantitative"},"y":{"field":"l","type":"quantitative","scale":{"domain":[1.2,49],"nice":false,"zero":false},"axis":{"orient":"right","values":[10,20,30,40],"format":"d","title":null}},"y2":{"field":"h"}}},{"mark":{"type":"line","color":"#a98a2c","strokeWidth":1.5,"interpolate":"monotone"},"encoding":{"x":{"field":"y","type":"quantitative"},"y":{"field":"f","type":"quantitative"}}}]},{"data":{"name":"coral"},"transform":[{"flatten":["y","v"]}],"mark":{"type":"circle","size":26,"opacity":1},"encoding":{"x":{"field":"y","type":"quantitative"},"y":{"field":"v","type":"quantitative"},"color":{"datum":"Hard Coral","type":"nominal"}}}]}
]},
{"width":247,"height":128,"view":{"stroke":null},"data":{"values":[{}]},"mark":{"type":"rule","opacity":0},"encoding":{"y":{"datum":-0.235,"type":"quantitative","scale":{"domain":[0,1]},"axis":null}}},
{"title":"Croppers","width":247,"height":128,"resolve":{"scale":{"y":"independent"}},"layer":[
{"layer":[{"data":{"name":"fit"},"transform":[{"filter":"datum.p==12"},{"flatten":["y","f","l","h"]}],"layer":[{"mark":{"type":"area","color":"#999999","opacity":0.4,"interpolate":"monotone"},"encoding":{"x":{"field":"y","type":"quantitative","scale":{"domain":[1981.45,2015.55],"nice":false,"zero":false},"axis":{"values":[1983,1988,1993,1998,2003,2008,2013],"format":"d","title":null}},"y":{"field":"l","type":"quantitative","scale":{"domain":[0.098,0.922],"nice":false,"zero":false},"axis":{"values":[0.25,0.5,0.75],"format":".2f","title":null}},"y2":{"field":"h"}}},{"mark":{"type":"line","color":"#5b4a9b","strokeWidth":1.5,"interpolate":"monotone"},"encoding":{"x":{"field":"y","type":"quantitative"},"y":{"field":"f","type":"quantitative"}}}]},{"data":{"name":"fish"},"transform":[{"filter":"datum.p==12"},{"flatten":["y","v"]}],"mark":{"type":"circle","size":26,"opacity":1},"encoding":{"x":{"field":"y","type":"quantitative"},"y":{"field":"v","type":"quantitative"},"color":{"datum":"Fish","type":"nominal"}}}]},
{"layer":[{"data":{"name":"cfit"},"transform":[{"flatten":["y","f","l","h"]}],"layer":[{"mark":{"type":"area","color":"#999999","opacity":0.4,"interpolate":"monotone"},"encoding":{"x":{"field":"y","type":"quantitative"},"y":{"field":"l","type":"quantitative","scale":{"domain":[1.2,49],"nice":false,"zero":false},"axis":{"orient":"right","values":[10,20,30,40],"format":"d","title":null}},"y2":{"field":"h"}}},{"mark":{"type":"line","color":"#a98a2c","strokeWidth":1.5,"interpolate":"monotone"},"encoding":{"x":{"field":"y","type":"quantitative"},"y":{"field":"f","type":"quantitative"}}}]},{"data":{"name":"coral"},"transform":[{"flatten":["y","v"]}],"mark":{"type":"circle","size":26,"opacity":1},"encoding":{"x":{"field":"y","type":"quantitative"},"y":{"field":"v","type":"quantitative"},"color":{"datum":"Hard Coral","type":"nominal"}}}]},
{"data":{"name":"br"},"layer":[{"mark":{"type":"rule","color":"#c8453b","strokeWidth":2,"strokeCap":"square"},"encoding":{"x":{"field":"a","type":"quantitative"},"x2":{"field":"b"},"y":{"datum":-0.235,"type":"quantitative","scale":{"domain":[0,1]},"axis":null}}},{"transform":[{"fold":["a","b"]}],"mark":{"type":"rule","color":"#c8453b","strokeWidth":2,"strokeCap":"square"},"encoding":{"x":{"field":"value","type":"quantitative"},"y":{"datum":-0.235,"type":"quantitative","axis":null},"y2":{"datum":-0.15}}}]}
]},
{"title":"Sandfeeders","width":247,"height":128,"resolve":{"scale":{"y":"independent"}},"layer":[
{"layer":[{"data":{"name":"fit"},"transform":[{"filter":"datum.p==13"},{"flatten":["y","f","l","h"]}],"layer":[{"mark":{"type":"area","color":"#999999","opacity":0.4,"interpolate":"monotone"},"encoding":{"x":{"field":"y","type":"quantitative","scale":{"domain":[1981.45,2015.55],"nice":false,"zero":false},"axis":{"values":[1983,1988,1993,1998,2003,2008,2013],"format":"d","title":null}},"y":{"field":"l","type":"quantitative","scale":{"domain":[-0.544,0.81],"nice":false,"zero":false},"axis":{"values":[-0.2,0,0.2,0.4,0.6,0.8],"format":".1f","title":null}},"y2":{"field":"h"}}},{"mark":{"type":"line","color":"#5b4a9b","strokeWidth":1.5,"interpolate":"monotone"},"encoding":{"x":{"field":"y","type":"quantitative"},"y":{"field":"f","type":"quantitative"}}}]},{"data":{"name":"fish"},"transform":[{"filter":"datum.p==13"},{"flatten":["y","v"]}],"mark":{"type":"circle","size":26,"opacity":1},"encoding":{"x":{"field":"y","type":"quantitative"},"y":{"field":"v","type":"quantitative"},"color":{"datum":"Fish","type":"nominal"}}}]},
{"layer":[{"data":{"name":"cfit"},"transform":[{"flatten":["y","f","l","h"]}],"layer":[{"mark":{"type":"area","color":"#999999","opacity":0.4,"interpolate":"monotone"},"encoding":{"x":{"field":"y","type":"quantitative"},"y":{"field":"l","type":"quantitative","scale":{"domain":[1.2,49],"nice":false,"zero":false},"axis":{"orient":"right","values":[10,20,30,40],"format":"d","title":null}},"y2":{"field":"h"}}},{"mark":{"type":"line","color":"#a98a2c","strokeWidth":1.5,"interpolate":"monotone"},"encoding":{"x":{"field":"y","type":"quantitative"},"y":{"field":"f","type":"quantitative"}}}]},{"data":{"name":"coral"},"transform":[{"flatten":["y","v"]}],"mark":{"type":"circle","size":26,"opacity":1},"encoding":{"x":{"field":"y","type":"quantitative"},"y":{"field":"v","type":"quantitative"},"color":{"datum":"Hard Coral","type":"nominal"}}}]},
{"data":{"name":"br"},"layer":[{"mark":{"type":"rule","color":"#c8453b","strokeWidth":2,"strokeCap":"square"},"encoding":{"x":{"field":"a","type":"quantitative"},"x2":{"field":"b"},"y":{"datum":-0.235,"type":"quantitative","scale":{"domain":[0,1]},"axis":null}}},{"transform":[{"fold":["a","b"]}],"mark":{"type":"rule","color":"#c8453b","strokeWidth":2,"strokeCap":"square"},"encoding":{"x":{"field":"value","type":"quantitative"},"y":{"datum":-0.235,"type":"quantitative","axis":null},"y2":{"datum":-0.15}}}]}
]},
{"title":"Large planktivores","width":247,"height":128,"resolve":{"scale":{"y":"independent"}},"layer":[
{"layer":[{"data":{"name":"fit"},"transform":[{"filter":"datum.p==14"},{"flatten":["y","f","l","h"]}],"layer":[{"mark":{"type":"area","color":"#999999","opacity":0.4,"interpolate":"monotone"},"encoding":{"x":{"field":"y","type":"quantitative","scale":{"domain":[1981.45,2015.55],"nice":false,"zero":false},"axis":{"values":[1983,1988,1993,1998,2003,2008,2013],"format":"d","title":null}},"y":{"field":"l","type":"quantitative","scale":{"domain":[-0.17,43.1],"nice":false,"zero":false},"axis":{"values":[0,10,20,30,40],"format":"d","title":null}},"y2":{"field":"h"}}},{"mark":{"type":"line","color":"#5b4a9b","strokeWidth":1.5,"interpolate":"monotone"},"encoding":{"x":{"field":"y","type":"quantitative"},"y":{"field":"f","type":"quantitative"}}}]},{"data":{"name":"fish"},"transform":[{"filter":"datum.p==14"},{"flatten":["y","v"]}],"mark":{"type":"circle","size":26,"opacity":1},"encoding":{"x":{"field":"y","type":"quantitative"},"y":{"field":"v","type":"quantitative"},"color":{"datum":"Fish","type":"nominal"}}}]},
{"layer":[{"data":{"name":"cfit"},"transform":[{"flatten":["y","f","l","h"]}],"layer":[{"mark":{"type":"area","color":"#999999","opacity":0.4,"interpolate":"monotone"},"encoding":{"x":{"field":"y","type":"quantitative"},"y":{"field":"l","type":"quantitative","scale":{"domain":[1.2,49],"nice":false,"zero":false},"axis":{"orient":"right","values":[10,20,30,40],"format":"d","title":null}},"y2":{"field":"h"}}},{"mark":{"type":"line","color":"#a98a2c","strokeWidth":1.5,"interpolate":"monotone"},"encoding":{"x":{"field":"y","type":"quantitative"},"y":{"field":"f","type":"quantitative"}}}]},{"data":{"name":"coral"},"transform":[{"flatten":["y","v"]}],"mark":{"type":"circle","size":26,"opacity":1},"encoding":{"x":{"field":"y","type":"quantitative"},"y":{"field":"v","type":"quantitative"},"color":{"datum":"Hard Coral","type":"nominal"}}}]},
{"data":{"name":"br"},"layer":[{"mark":{"type":"rule","color":"#c8453b","strokeWidth":2,"strokeCap":"square"},"encoding":{"x":{"field":"a","type":"quantitative"},"x2":{"field":"b"},"y":{"datum":-0.235,"type":"quantitative","scale":{"domain":[0,1]},"axis":null}}},{"transform":[{"fold":["a","b"]}],"mark":{"type":"rule","color":"#c8453b","strokeWidth":2,"strokeCap":"square"},"encoding":{"x":{"field":"value","type":"quantitative"},"y":{"datum":-0.235,"type":"quantitative","axis":null},"y2":{"datum":-0.15}}}]}
]}
]},
{"width":1,"height":600,"view":{"stroke":null},"data":{"values":[{}]},"mark":{"type":"point","opacity":0},"encoding":{"y":{"datum":0,"type":"quantitative","axis":{"orient":"right","title":"Hard coral cover (%)","labels":false,"ticks":false,"domain":false,"grid":false,"titleFontSize":18,"titleFontWeight":"normal","titleColor":"#111111","titlePadding":-6,"titleY":355}}}}
]}
]}
]
}
